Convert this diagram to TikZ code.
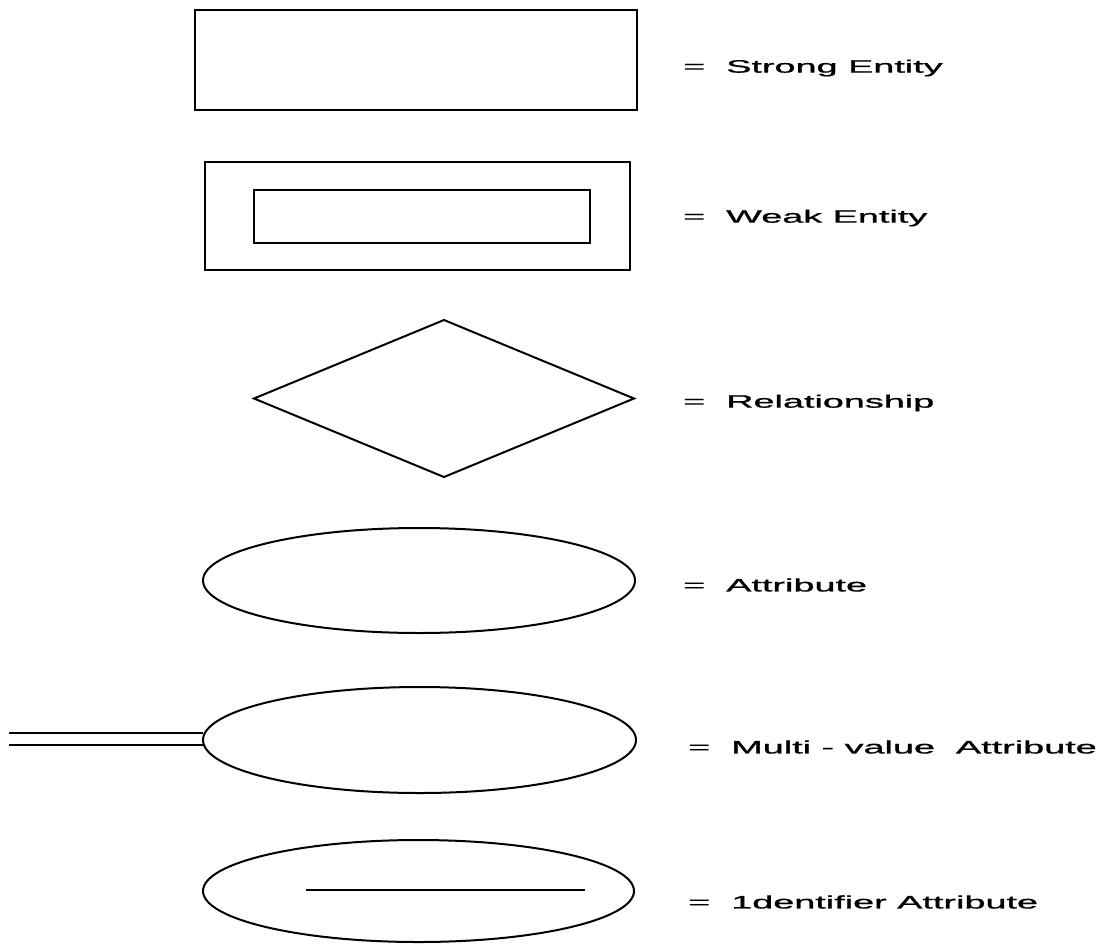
\documentclass[tikz,border=0pt]{standalone}
\usepackage{fontspec}
\usepackage{graphicx}
\setmainfont{Liberation Sans}
\newfontfamily\lblfont{Liberation Sans}[FakeBold=0.8]
\usetikzlibrary{shapes.geometric}
\newcommand{\wide}[1]{\scalebox{2.1}[1]{#1}}
\begin{document}
\begin{tikzpicture}[x=1pt,y=-1pt,
  shp/.style={draw=black,line width=2pt,inner sep=0pt,outer sep=0pt},
  ln/.style={line width=2pt},
  lbl/.style={anchor=west,font=\lblfont\fontsize{18}{21}\selectfont,inner sep=0pt}]
\useasboundingbox (0,0) rectangle (1115,945);
% strong entity
\node[shp,rectangle,minimum width=442,minimum height=100] (strong) at (416,60) {};
\node[lbl] (tstrong) at (683,68) {\wide{=\ \ Strong Entity}};
% weak entity
\node[shp,rectangle,minimum width=425,minimum height=108] (weakout) at (417.5,216) {};
\node[shp,rectangle,minimum width=336,minimum height=53] (weakin) at (422,216.5) {};
\node[lbl] (tweak) at (683,218) {\wide{=\ \ Weak Entity}};
% relationship
\node[shp,diamond,minimum width=380,minimum height=157] (rel) at (444,398.5) {};
\node[lbl] (trel) at (683,403) {\wide{=\ \ Relationship}};
% attribute
\node[shp,ellipse,minimum width=432,minimum height=105] (attr) at (419,580.5) {};
\node[lbl] (tattr) at (683,585) {\wide{=\ \ Attribute}};
% multi-value attribute
\node[shp,ellipse,minimum width=433,minimum height=106] (multi) at (419.5,740) {};
\coordinate (m1) at (9,733);
\coordinate (m2) at (9,745);
\draw[ln] (m1) -- (multi.west |- m1);
\draw[ln] (m2) -- (205,745);
\node[lbl] (tmulti) at (688,747) {\wide{=\ \ Multi - value\ \ Attribute}};
% identifier attribute
\node[shp,ellipse,minimum width=431,minimum height=102] (ident) at (418.5,891) {};
\coordinate (i1) at (306,890);
\coordinate (i2) at (585,890);
\draw[ln] (i1) -- (i2);
\node[lbl] (tident) at (688,902) {\wide{=\ \ 1dentifier Attribute}};
\end{tikzpicture}
\end{document}
